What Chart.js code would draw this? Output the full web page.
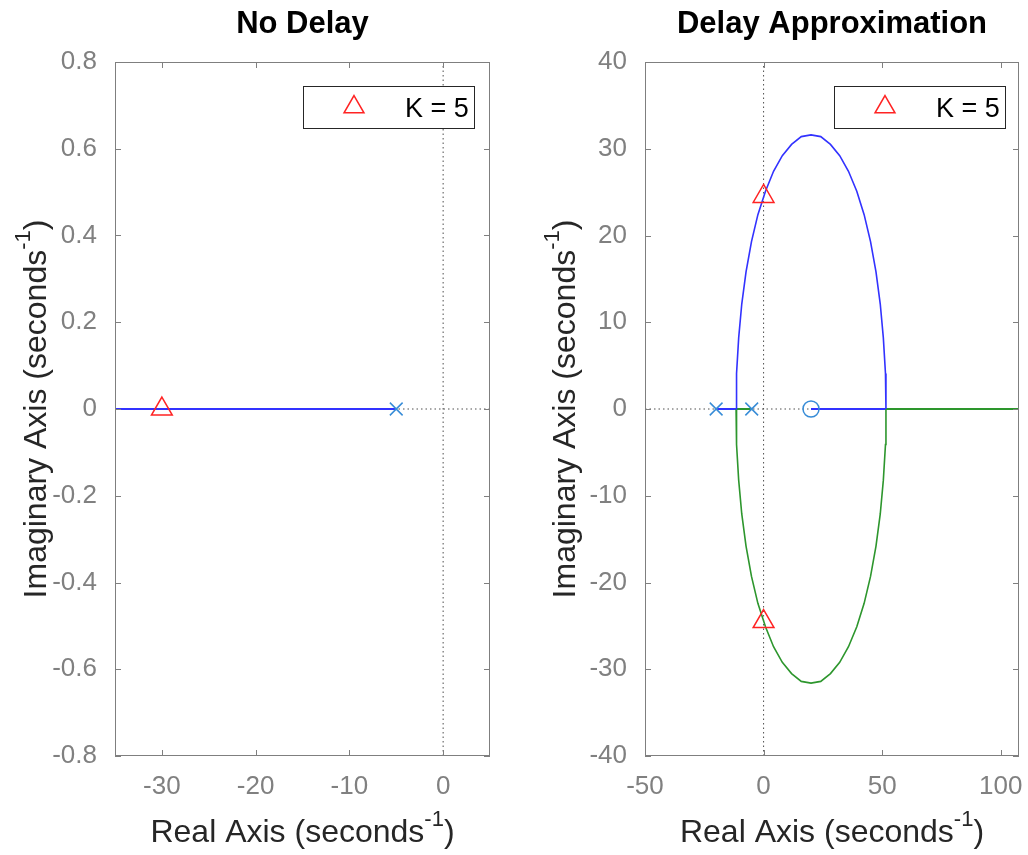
<!DOCTYPE html>
<html><head><meta charset="utf-8">
<script src="https://cdn.jsdelivr.net/npm/chart.js@4.4.1/dist/chart.umd.min.js"></script>
<style>
html,body{margin:0;padding:0;background:#fff;}
#wrap{position:relative;width:1028px;height:855px;overflow:hidden;}
canvas{position:absolute;top:0;}
</style></head><body>
<div id="wrap">
<canvas id="c1" width="514" height="855" style="left:0px"></canvas>
<canvas id="c2" width="519" height="855" style="left:514px"></canvas>
</div>
<script>
// ---------- data ----------
const titles = ['No Delay', 'Delay Approximation'];
const xAxisLabel = ['Real Axis (seconds', '-1', ')'];
const yAxisLabel = ['Imaginary Axis (seconds', '-1', ')'];
const legendLabel = 'K = 5';

const leftXRange = [-35, 5];
const leftYRange = [-0.8, 0.8];
const rightXRange = [-50, 107.7];
const rightYRange = [-40, 40];

const leftXTicks = [-30, -20, -10, 0];
const leftYTicks = [-0.8, -0.6, -0.4, -0.2, 0, 0.2, 0.4, 0.6, 0.8];
const rightXTicks = [-50, 0, 50, 100];
const rightYTicks = [-40, -30, -20, -10, 0, 10, 20, 30, 40];

// No Delay
const leftPoleX = [-5];
const leftPoleY = [0];
const leftLocusX = [-35, -5];
const leftLocusY = [0, 0];
const leftGainX = [-30];
const leftGainY = [0];

// Delay Approximation
const rightPoleX = [-20, -5];
const rightPoleY = [0, 0];
const rightZeroX = [20];
const rightZeroY = [0];
const rightGainX = [0, 0];
const rightGainY = [24.5, -24.5];
const arcX = [-11.6, -11.4, -10.5, -9.2, -7.4, -5.1, -2.4, 0.8, 4.2, 7.9, 11.8, 15.9, 20,
              24.1, 28.2, 32.1, 35.8, 39.3, 42.4, 45.1, 47.4, 49.2, 50.5, 51.4, 51.6];
const upperArcY = [0, 4.1, 8.2, 12.1, 15.8, 19.3, 22.4, 25.1, 27.4, 29.2, 30.5, 31.4, 31.6,
                   31.4, 30.5, 29.2, 27.4, 25.1, 22.4, 19.3, 15.8, 12.1, 8.2, 4.1, 0];
const lowerArcY = [0, -4.1, -8.2, -12.1, -15.8, -19.3, -22.4, -25.1, -27.4, -29.2, -30.5, -31.4, -31.6,
                   -31.4, -30.5, -29.2, -27.4, -25.1, -22.4, -19.3, -15.8, -12.1, -8.2, -4.1, 0];
const blueRealX1 = [-20, -11.6];
const greenRealX1 = [-5, -11.6];
const blueRealX2 = [20, 51.6];
const greenRealX2 = [51.6, 107.7];
const zeroLineY = [0, 0];

// ---------- styling ----------
const FAM = '"Liberation Sans", Arial, Helvetica, sans-serif';
const BLUE = 'rgb(50,50,255)';
const GREEN = 'rgb(45,150,45)';
const RED = 'rgb(255,35,35)';
const MARK = 'rgb(55,140,215)';
const DOT = 'rgba(60,60,60,0.9)';
const AXC = '#7f7f7f';

const pts = (xs, ys) => xs.map((x, i) => ({x: x, y: ys[i]}));

function lineDS(data, color, width, dash) {
  return {data: data, showLine: true, borderColor: color, borderWidth: width, borderDash: dash || [],
          pointRadius: 0, fill: false, tension: 0};
}
function markDS(data, style, color, radius) {
  return {data: data, showLine: false, pointStyle: style, pointRadius: radius,
          borderColor: color, backgroundColor: 'rgba(0,0,0,0)', pointBorderWidth: 1.5, borderWidth: 1.5};
}

function drawComposite(ctx, parts, x, y, size, rotate) {
  ctx.save();
  ctx.translate(x, y);
  if (rotate) ctx.rotate(-Math.PI / 2);
  const f = size + 'px ' + FAM;
  const fs = Math.round(size * 0.68) + 'px ' + FAM;
  ctx.font = f; const w1 = ctx.measureText(parts[0]).width; const w3 = ctx.measureText(parts[2]).width;
  ctx.font = fs; const w2 = ctx.measureText(parts[1]).width;
  let cx = -(w1 + w2 + w3) / 2;
  ctx.fillStyle = '#262626'; ctx.textAlign = 'left'; ctx.textBaseline = 'alphabetic';
  ctx.font = f; ctx.fillText(parts[0], cx, 0); cx += w1;
  ctx.font = fs; ctx.fillText(parts[1], cx, -size * 0.5); cx += w2;
  ctx.font = f; ctx.fillText(parts[2], cx, 0);
  ctx.restore();
}

function decorPlugin(opt) {
  return {
    id: 'decor',
    afterDraw(chart) {
      const ctx = chart.ctx, a = chart.chartArea;
      const xs = chart.scales.x, ys = chart.scales.y;
      ctx.save();
      // axes box
      ctx.strokeStyle = AXC; ctx.lineWidth = 1;
      ctx.strokeRect(a.left + 0.5, a.top + 0.5, a.right - a.left - 1, a.bottom - a.top - 1);
      // inner tick marks on all four sides
      ctx.beginPath();
      opt.xTicks.forEach(v => {
        const p = Math.round(xs.getPixelForValue(v)) + 0.5;
        ctx.moveTo(p, a.bottom); ctx.lineTo(p, a.bottom - 6);
        ctx.moveTo(p, a.top); ctx.lineTo(p, a.top + 6);
      });
      opt.yTicks.forEach(v => {
        const p = Math.round(ys.getPixelForValue(v)) + 0.5;
        ctx.moveTo(a.left, p); ctx.lineTo(a.left + 6, p);
        ctx.moveTo(a.right, p); ctx.lineTo(a.right - 6, p);
      });
      ctx.stroke();
      // title
      ctx.fillStyle = '#000'; ctx.font = 'bold 31px ' + FAM;
      ctx.textAlign = 'center'; ctx.textBaseline = 'alphabetic';
      ctx.fillText(opt.title, (a.left + a.right) / 2, 33);
      // axis labels
      drawComposite(ctx, xAxisLabel, (a.left + a.right) / 2, 842, 32, false);
      drawComposite(ctx, yAxisLabel, opt.yLabelX, (a.top + a.bottom) / 2, 32, true);
      // legend
      const L = opt.legendX, T = 86, W = 171, H = 42;
      ctx.fillStyle = '#fff'; ctx.fillRect(L, T, W, H);
      ctx.strokeStyle = '#262626'; ctx.lineWidth = 1;
      ctx.strokeRect(L + 0.5, T + 0.5, W, H);
      const tx = L + 51, ty = 107, r = 11.5;
      ctx.beginPath();
      ctx.moveTo(tx, ty - r);
      ctx.lineTo(tx + r * Math.sin(2 * Math.PI / 3), ty - r * Math.cos(2 * Math.PI / 3));
      ctx.lineTo(tx + r * Math.sin(4 * Math.PI / 3), ty - r * Math.cos(4 * Math.PI / 3));
      ctx.closePath();
      ctx.strokeStyle = RED; ctx.lineWidth = 1.5; ctx.stroke();
      ctx.fillStyle = '#000'; ctx.font = '27px ' + FAM; ctx.textAlign = 'left';
      ctx.fillText(legendLabel, L + 102, 117);
      ctx.restore();
    }
  };
}

function makeChart(id, datasets, o) {
  return new Chart(document.getElementById(id), {
    type: 'scatter',
    data: {datasets: datasets},
    options: {
      responsive: false, animation: false, devicePixelRatio: 1,
      layout: {padding: {top: 62, right: o.padRight, bottom: 0, left: 0}},
      plugins: {legend: {display: false}, tooltip: {enabled: false}, title: {display: false}},
      scales: {
        x: {
          type: 'linear', min: o.xRange[0], max: o.xRange[1],
          afterBuildTicks: s => { s.ticks = o.xTicks.map(v => ({value: v})); },
          afterFit: s => { s.height = 99; s.paddingLeft = 0; s.paddingRight = 0; },
          grid: {display: false, drawTicks: false}, border: {display: false},
          ticks: {autoSkip: false, maxRotation: 0, padding: 15, color: '#808080',
                  font: {family: FAM, size: 26}, callback: v => String(v)}
        },
        y: {
          type: 'linear', min: o.yRange[0], max: o.yRange[1],
          afterBuildTicks: s => { s.ticks = o.yTicks.map(v => ({value: v})); },
          afterFit: s => { s.width = o.yWidth; s.paddingTop = 0; s.paddingBottom = 0; },
          grid: {display: false, drawTicks: false}, border: {display: false},
          ticks: {autoSkip: false, padding: 18, color: '#808080',
                  font: {family: FAM, size: 26}, callback: v => String(v)}
        }
      }
    },
    plugins: [decorPlugin(o)]
  });
}

makeChart('c1', [
  markDS(pts(leftGainX, leftGainY), 'triangle', RED, 12),
  markDS(pts(leftPoleX, leftPoleY), 'crossRot', MARK, 9),
  lineDS(pts(leftLocusX, leftLocusY), BLUE, 2),
  lineDS(pts([0, 0], leftYRange), DOT, 1, [1.5, 3]),
  lineDS(pts(leftXRange, zeroLineY), DOT, 1, [1.5, 3])
], {xRange: leftXRange, yRange: leftYRange, xTicks: leftXTicks, yTicks: leftYTicks,
    yWidth: 115, padRight: 24, title: titles[0], yLabelX: 46, legendX: 303});

makeChart('c2', [
  markDS(pts(rightGainX, rightGainY), 'triangle', RED, 12),
  markDS(pts(rightPoleX, rightPoleY), 'crossRot', MARK, 9),
  markDS(pts(rightZeroX, rightZeroY), 'circle', MARK, 8),
  lineDS(pts(arcX, upperArcY), BLUE, 1.6),
  lineDS(pts(arcX, lowerArcY), GREEN, 1.6),
  lineDS(pts(blueRealX1, zeroLineY), BLUE, 2),
  lineDS(pts(greenRealX1, zeroLineY), GREEN, 2),
  lineDS(pts(blueRealX2, zeroLineY), BLUE, 2),
  lineDS(pts(greenRealX2, zeroLineY), GREEN, 2),
  lineDS(pts([0, 0], rightYRange), DOT, 1, [1.5, 3]),
  lineDS(pts(rightXRange, zeroLineY), DOT, 1, [1.5, 3])
], {xRange: rightXRange, yRange: rightYRange, xTicks: rightXTicks, yTicks: rightYTicks,
    yWidth: 131, padRight: 14, title: titles[1], yLabelX: 61, legendX: 320});
</script>
</body></html>
